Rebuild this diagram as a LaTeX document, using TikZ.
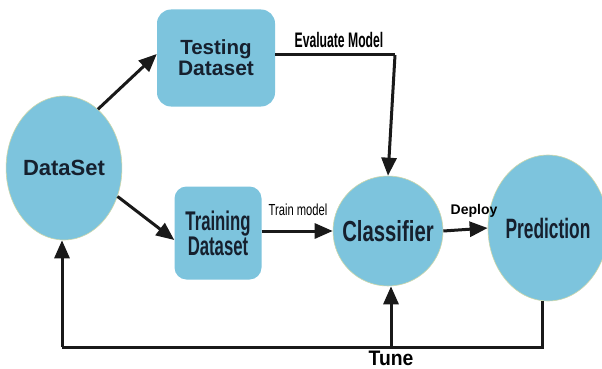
\documentclass[tikz,border=0pt]{standalone}
\usepackage{fontspec}
\setmainfont{Liberation Sans}
\newfontfamily\fnarrowA[FakeStretch=0.62]{Liberation Sans}
\newfontfamily\fnarrowB[FakeStretch=0.70]{Liberation Sans}
\newfontfamily\fnarrowC[FakeStretch=0.92]{Liberation Sans}
\newfontfamily\fnarrowD[FakeStretch=0.58]{Liberation Sans}
\usetikzlibrary{arrows.meta,shapes.geometric}
\definecolor{nodefill}{RGB}{125,196,221}
\definecolor{nodeline}{RGB}{205,215,170}
\definecolor{txt}{RGB}{22,32,46}
\tikzset{
  blob/.style={ellipse, fill=nodefill, draw=nodeline, line width=0.6pt, inner sep=0pt, text=txt},
  rbox/.style={rectangle, rounded corners=14pt, fill=nodefill, draw=none, inner sep=0pt, text=txt, align=center},
  conn/.style={line width=3pt, draw=black!90, -{Triangle[length=18pt,width=15pt]}},
  plainline/.style={line width=3pt, draw=black!90},
  lbl/.style={text=black, inner sep=0pt}
}
\begin{document}
\begin{tikzpicture}[x=1pt,y=-1pt]
\useasboundingbox (0,0) rectangle (602,369);
\fill[white] (0,0) rectangle (602,369);
% nodes
\node[blob, minimum width=108pt, minimum height=144pt] (ds) at (64,168)
  {\fontsize{22}{24}\selectfont\bfseries DataSet};
\node[rbox, minimum width=118pt, minimum height=97pt] (test) at (216,58)
  {\fontsize{20.5}{23}\selectfont\bfseries Testing\\[1pt]\fontsize{21}{23}\selectfont\bfseries Dataset};
\node[rbox, minimum width=87pt, minimum height=93pt, rounded corners=12pt] (train) at (218,233)
  {\fnarrowA\fontsize{27}{27}\selectfont\bfseries Training\\\fnarrowA\fontsize{27}{27}\selectfont\bfseries Dataset};
\node[blob, circle, minimum size=110pt] (clf) at (388,231)
  {\fnarrowB\fontsize{29}{30}\selectfont\bfseries Classifier};
\node[blob, minimum width=108pt, minimum height=146pt] (pred) at (548,228)
  {\fnarrowA\fontsize{28}{30}\selectfont\bfseries Prediction};
% helper coordinates
\coordinate (evc) at (395,55);
\coordinate (tb) at (542,347);
\coordinate (tl) at (62,347);
\coordinate (tm) at (391,347);
% connectors
\draw[conn] (ds.60) -- ([yshift=4pt]test.west);
\draw[conn] (ds.-28) -- ([yshift=-7pt]train.west);
\draw[plainline] (test.east |- evc) -- (evc);
\draw[conn] (evc) -- (clf.north);
\draw[conn] (train.east |- 0,231) -- (clf.west);
\draw[conn] (clf.east) -- (pred.west);
\draw[plainline] (pred.south -| tb) -- (tb) -- (tl);
\draw[conn] (tl) -- (ds.south -| tl);
\draw[conn] (tm) -- (clf.south -| tm);
% labels
\node[lbl] (lev) at (339,40) {\fnarrowD\fontsize{21}{22}\selectfont\bfseries Evaluate Model};
\node[lbl] (ltr) at (298,210) {\fnarrowB\fontsize{16}{17}\selectfont Train model};
\node[lbl] (ldp) at (474,211) {\fontsize{14}{15}\selectfont\bfseries Deploy};
\node[lbl] (ltu) at (391,358.5) {\fnarrowC\fontsize{21}{22}\selectfont\bfseries Tune};
\end{tikzpicture}
\end{document}
